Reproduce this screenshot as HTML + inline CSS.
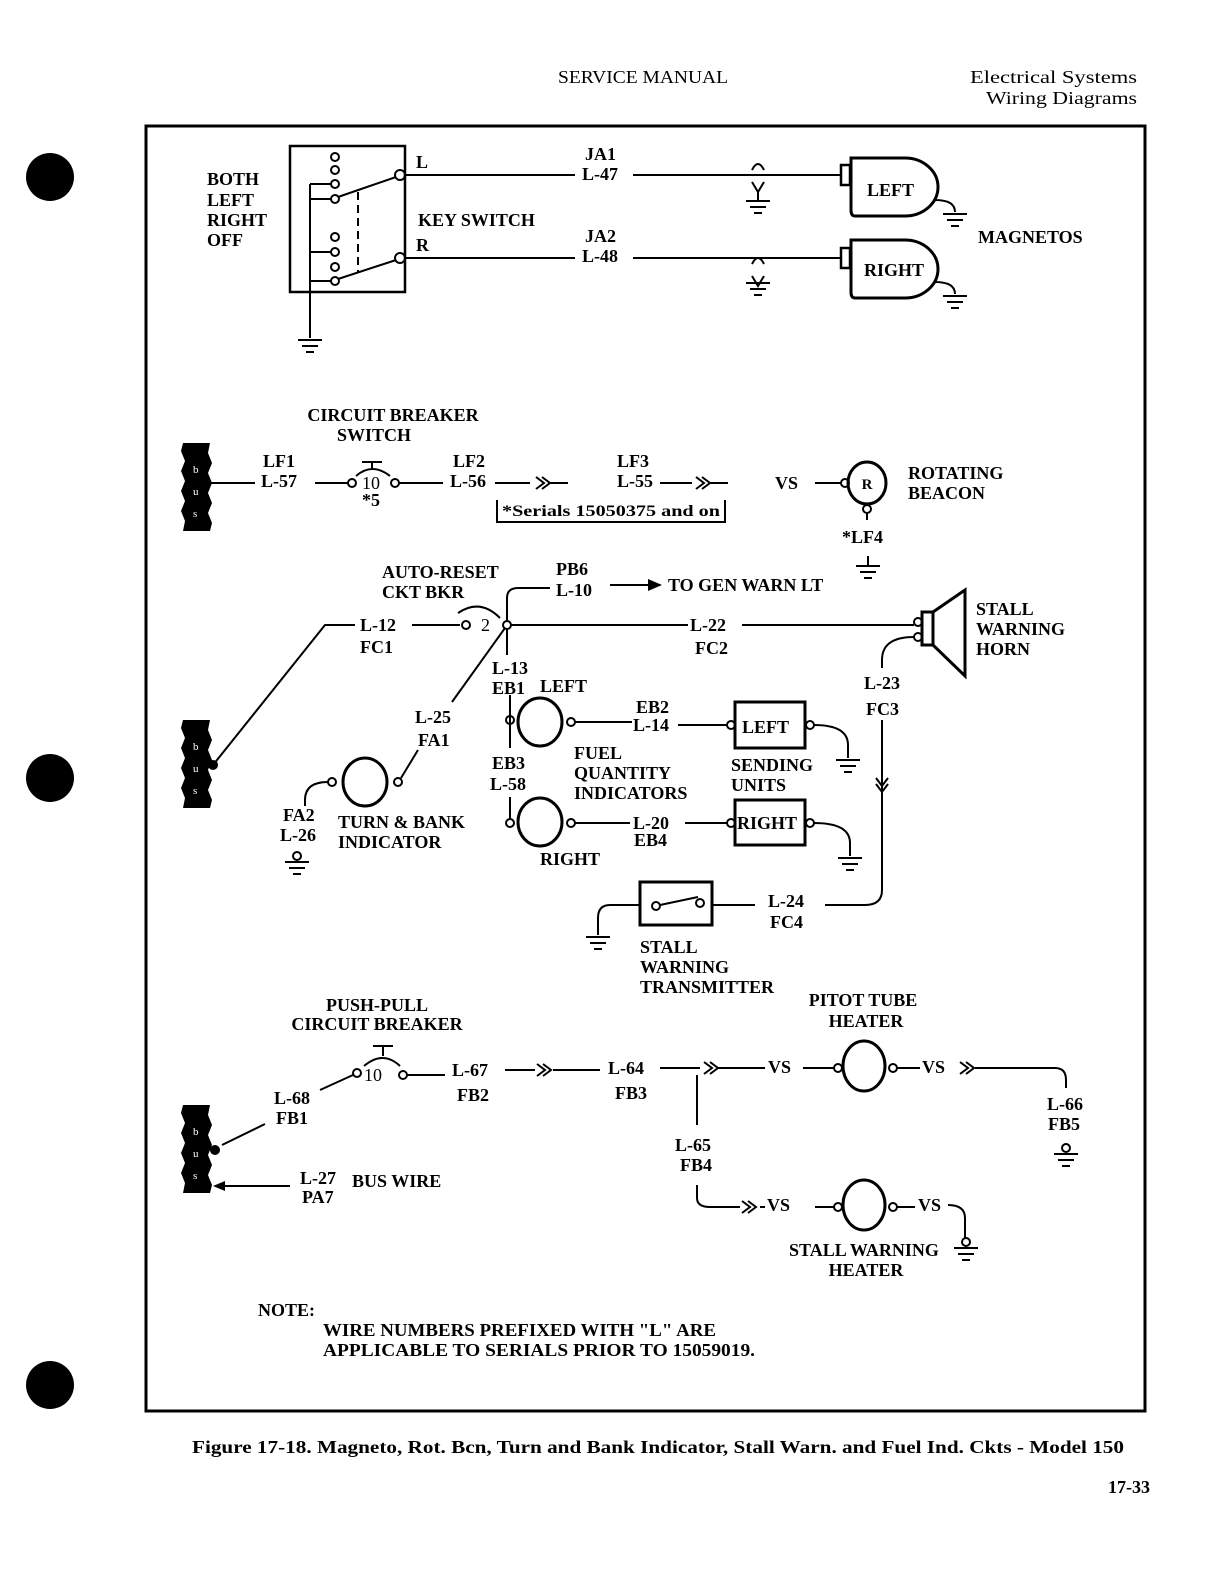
<!DOCTYPE html>
<html><head><meta charset="utf-8"><style>
html,body{margin:0;padding:0;background:#fff}
svg{display:block}
text{font-family:"Liberation Serif",serif;font-weight:bold;font-size:18px;fill:#000}
</style></head><body>
<svg width="1222" height="1580" viewBox="0 0 1222 1580" xmlns="http://www.w3.org/2000/svg">
<defs>
<g id="gnd" stroke="#000" stroke-width="2" fill="none"><line x1="-12" y1="0" x2="12" y2="0"/><line x1="-8" y1="6" x2="8" y2="6"/><line x1="-4" y1="12" x2="4" y2="12"/></g>
<g id="gndc" stroke="#000" stroke-width="2" fill="none"><circle cx="0" cy="-6" r="4"/><line x1="-12" y1="0" x2="12" y2="0"/><line x1="-8" y1="6" x2="8" y2="6"/><line x1="-4" y1="12" x2="4" y2="12"/></g>
<g id="chev" stroke="#000" stroke-width="2" fill="none"><path d="M-8,-6 L0,0 L-8,6 M-2,-6 L6,0 L-2,6"/></g>
<g id="bus"><path d="M183,0 L210,0 L208,10 L212,20 L208,30 L212,40 L208,50 L212,60 L208,70 L212,80 L210,88 L183,88 L185,78 L181,68 L185,58 L181,48 L185,38 L181,28 L185,18 L181,8 Z" fill="#000"/>
<text x="193" y="30" style="font-size:11px;font-weight:normal;fill:#fff">b</text><text x="193" y="52" style="font-size:11px;font-weight:normal;fill:#fff">u</text><text x="193" y="74" style="font-size:11px;font-weight:normal;fill:#fff">s</text></g>
</defs>

<text x="558" y="83" textLength="170" lengthAdjust="spacingAndGlyphs" style="font-weight:normal">SERVICE MANUAL</text>
<text x="970" y="83" textLength="167" lengthAdjust="spacingAndGlyphs" style="font-weight:normal">Electrical Systems</text>
<text x="986" y="104" textLength="151" lengthAdjust="spacingAndGlyphs" style="font-weight:normal">Wiring Diagrams</text>

<circle cx="50" cy="177" r="24" fill="#000"/>
<circle cx="50" cy="778" r="24" fill="#000"/>
<circle cx="50" cy="1385" r="24" fill="#000"/>

<rect x="146" y="126" width="999" height="1285" fill="none" stroke="#000" stroke-width="3"/>

<g stroke="#000" stroke-width="2" fill="none">
<rect x="290" y="146" width="115" height="146" stroke-width="2.5"/>
<circle cx="335" cy="157" r="4"/><circle cx="335" cy="170" r="4"/><circle cx="335" cy="184" r="4"/><circle cx="335" cy="199" r="4"/>
<circle cx="335" cy="237" r="4"/><circle cx="335" cy="252" r="4"/><circle cx="335" cy="267" r="4"/><circle cx="335" cy="281" r="4"/>
<path d="M310,184 H331 M310,199 H331 M310,252 H331 M310,281 H331 M310,184 V338"/>
<circle cx="400" cy="175" r="5"/><circle cx="400" cy="258" r="5"/>
<path d="M338,197 L396,177 M338,279 L396,260"/>
<path d="M358,192 V272" stroke-dasharray="8,5"/>
<path d="M405,175 H575 M633,175 H840 M405,258 H575 M633,258 H840"/>
<path d="M752,170 Q758,158 764,170 M752,182 L758,192 L764,182 M758,192 V200 M752,264 Q758,252 764,264 M752,276 L758,286 L764,276 M758,286 V282"/>
<rect x="841" y="165" width="9" height="20" stroke-width="2.5"/>
<path d="M851,158 H905 A33,29 0 0 1 905,216 H855 Q851,216 851,210 Z" stroke-width="3"/>
<path d="M935,200 Q955,200 955,212"/>
<rect x="841" y="248" width="9" height="20" stroke-width="2.5"/>
<path d="M851,240 H905 A33,29 0 0 1 905,298 H855 Q851,298 851,292 Z" stroke-width="3"/>
<path d="M935,282 Q955,282 955,294"/>

<path d="M210,483 H255 M315,483 H348 M399,483 H443 M495,483 H530 M548,483 H568 M660,483 H692 M710,483 H728 M815,483 H841"/>
<circle cx="352" cy="483" r="4"/><circle cx="395" cy="483" r="4"/>
<path d="M362,462 H382 M372,462 V470 M356,476 Q372,462 390,476"/>
<circle cx="845" cy="483" r="4"/>
<ellipse cx="867" cy="483" rx="19" ry="21" stroke-width="3"/>
<circle cx="867" cy="509" r="4"/><path d="M867,513 V520"/>
<path d="M868,556 V566"/>
<path d="M497,500 V522 H725 V500"/>

<path d="M213,765 L325,625 H355 M412,625 H460"/>
<circle cx="466" cy="625" r="4"/>
<path d="M458,613 Q480,598 500,618"/>
<circle cx="507" cy="625" r="4"/>
<path d="M511,625 H688 M742,625 H914"/>
<path d="M507,621 V598 Q507,588 518,588 H550"/>
<path d="M610,585 H648"/>
<path d="M507,629 V655 M505,628 L452,702 M418,750 L401,778"/>
<circle cx="398" cy="782" r="4"/>
<ellipse cx="365" cy="782" rx="22" ry="24" stroke-width="3"/>
<circle cx="332" cy="782" r="4"/>
<path d="M328,782 Q305,782 305,800 V806"/>
<path d="M510,695 V748 M510,797 V819"/>
<circle cx="510" cy="720" r="4"/>
<ellipse cx="540" cy="722" rx="22" ry="24" stroke-width="3"/>
<circle cx="571" cy="722" r="4"/>
<path d="M575,722 H632 M678,725 H727"/>
<circle cx="731" cy="725" r="4"/>
<rect x="735" y="702" width="70" height="46" stroke-width="3"/>
<circle cx="810" cy="725" r="4"/>
<path d="M814,725 Q848,725 848,745 V758"/>
<circle cx="510" cy="823" r="4"/>
<ellipse cx="540" cy="822" rx="22" ry="24" stroke-width="3"/>
<circle cx="571" cy="823" r="4"/>
<path d="M575,823 H630 M685,823 H727"/>
<circle cx="731" cy="823" r="4"/>
<rect x="735" y="800" width="70" height="45" stroke-width="3"/>
<circle cx="810" cy="823" r="4"/>
<path d="M814,823 Q850,823 850,843 V856"/>
<circle cx="918" cy="622" r="4"/><circle cx="918" cy="637" r="4"/>
<rect x="922" y="612" width="11" height="33" stroke-width="3"/>
<path d="M933,612 L965,590 V676 L933,645" stroke-width="3"/>
<path d="M914,637 Q882,637 882,660 V668 M882,720 V890 Q882,905 865,905 H825"/>
<path d="M712,905 H755"/>
<rect x="640" y="882" width="72" height="43" stroke-width="3"/>
<circle cx="656" cy="906" r="4"/><circle cx="700" cy="903" r="4"/>
<path d="M660,905 L698,897 M640,905 H610 Q598,905 598,918 V935"/>

<path d="M222,1145 L265,1124 M320,1090 L353,1075"/>
<circle cx="357" cy="1073" r="4"/><circle cx="403" cy="1075" r="4"/>
<path d="M373,1046 H393 M383,1046 V1056 M364,1066 Q383,1050 400,1066"/>
<path d="M407,1075 H445 M505,1070 H535 M553,1070 H600 M660,1068 H700 M718,1068 H765 M803,1068 H834 M897,1068 H920"/>
<circle cx="838" cy="1068" r="4"/>
<ellipse cx="864" cy="1066" rx="21" ry="25" stroke-width="3"/>
<circle cx="893" cy="1068" r="4"/>
<path d="M975,1068 H1055 Q1066,1068 1066,1080 V1088"/>
<path d="M697,1075 V1125 M697,1185 V1198 Q697,1207 710,1207 H740 M760,1207 H765 M815,1207 H834 M897,1207 H915 M948,1205 Q965,1205 965,1218 V1238"/>
<circle cx="838" cy="1207" r="4"/>
<ellipse cx="864" cy="1205" rx="21" ry="25" stroke-width="3"/>
<circle cx="893" cy="1207" r="4"/>
<path d="M220,1186 H290"/>
</g>
<path d="M648,579 L662,585 L648,591 Z" fill="#000"/>
<path d="M213,1186 L225,1181 L225,1191 Z" fill="#000"/>
<circle cx="213" cy="765" r="5" fill="#000"/>
<circle cx="215" cy="1150" r="5" fill="#000"/>

<use href="#chev" x="544" y="483"/><use href="#chev" x="704" y="483"/>
<use href="#chev" x="545" y="1070"/><use href="#chev" x="712" y="1068"/>
<use href="#chev" x="968" y="1068"/><use href="#chev" x="750" y="1207"/>
<g transform="translate(882,786) rotate(90)"><use href="#chev"/></g>

<use href="#gnd" x="758" y="201"/><use href="#gnd" x="758" y="283"/>
<use href="#gnd" x="955" y="214"/><use href="#gnd" x="955" y="296"/>
<use href="#gnd" x="310" y="340"/>
<use href="#gnd" x="868" y="566"/>
<use href="#gndc" x="297" y="862"/>
<use href="#gnd" x="848" y="760"/><use href="#gnd" x="850" y="858"/>
<use href="#gnd" x="598" y="937"/>
<use href="#gndc" x="1066" y="1154"/>
<use href="#gndc" x="966" y="1248"/>

<use href="#bus" x="0" y="443"/><use href="#bus" x="0" y="720"/><use href="#bus" x="0" y="1105"/>

<text x="207" y="185">BOTH</text><text x="207" y="206">LEFT</text><text x="207" y="226">RIGHT</text><text x="207" y="246">OFF</text>
<text x="416" y="168">L</text><text x="416" y="251">R</text>
<text x="418" y="226">KEY SWITCH</text>
<text x="585" y="160">JA1</text><text x="582" y="180">L-47</text>
<text x="585" y="242">JA2</text><text x="582" y="262">L-48</text>
<text x="867" y="196">LEFT</text><text x="864" y="276">RIGHT</text>
<text x="978" y="243">MAGNETOS</text>

<text x="393" y="421" text-anchor="middle">CIRCUIT BREAKER</text>
<text x="374" y="441" text-anchor="middle">SWITCH</text>
<text x="263" y="467">LF1</text><text x="261" y="487">L-57</text>
<text x="362" y="489" style="font-weight:normal">10</text><text x="362" y="506">*5</text>
<text x="453" y="467">LF2</text><text x="450" y="487">L-56</text>
<text x="617" y="467">LF3</text><text x="617" y="487">L-55</text>
<text x="775" y="489">VS</text>
<text x="867" y="489" text-anchor="middle" style="font-size:15px">R</text>
<text x="908" y="479">ROTATING</text><text x="908" y="499">BEACON</text>
<text x="842" y="543">*LF4</text>
<text x="502" y="516" textLength="218" lengthAdjust="spacingAndGlyphs" style="font-size:16px">*Serials 15050375 and on</text>

<text x="382" y="578">AUTO-RESET</text><text x="382" y="598">CKT BKR</text>
<text x="556" y="575">PB6</text><text x="556" y="596">L-10</text>
<text x="668" y="591">TO GEN WARN LT</text>
<text x="360" y="631">L-12</text><text x="360" y="653">FC1</text>
<text x="481" y="631" style="font-weight:normal">2</text>
<text x="690" y="631">L-22</text><text x="695" y="654">FC2</text>
<text x="976" y="615">STALL</text><text x="976" y="635">WARNING</text><text x="976" y="655">HORN</text>
<text x="864" y="689">L-23</text><text x="866" y="715">FC3</text>
<text x="492" y="674">L-13</text><text x="492" y="694">EB1</text><text x="540" y="692">LEFT</text>
<text x="415" y="723">L-25</text><text x="418" y="746">FA1</text>
<text x="636" y="713">EB2</text><text x="633" y="731">L-14</text>
<text x="742" y="733">LEFT</text>
<text x="574" y="759">FUEL</text><text x="574" y="779">QUANTITY</text><text x="574" y="799">INDICATORS</text>
<text x="731" y="771">SENDING</text><text x="731" y="791">UNITS</text>
<text x="492" y="769">EB3</text><text x="490" y="790">L-58</text>
<text x="633" y="829">L-20</text><text x="634" y="846">EB4</text>
<text x="737" y="829">RIGHT</text>
<text x="540" y="865">RIGHT</text>
<text x="283" y="821">FA2</text><text x="280" y="841">L-26</text>
<text x="338" y="828">TURN &amp; BANK</text><text x="338" y="848">INDICATOR</text>
<text x="768" y="907">L-24</text><text x="770" y="928">FC4</text>
<text x="640" y="953">STALL</text><text x="640" y="973">WARNING</text><text x="640" y="993">TRANSMITTER</text>

<text x="377" y="1011" text-anchor="middle">PUSH-PULL</text>
<text x="377" y="1030" text-anchor="middle">CIRCUIT BREAKER</text>
<text x="863" y="1006" text-anchor="middle">PITOT TUBE</text><text x="866" y="1027" text-anchor="middle">HEATER</text>
<text x="274" y="1104">L-68</text><text x="276" y="1124">FB1</text>
<text x="364" y="1081" style="font-weight:normal">10</text>
<text x="452" y="1076">L-67</text><text x="457" y="1101">FB2</text>
<text x="608" y="1074">L-64</text><text x="615" y="1099">FB3</text>
<text x="768" y="1073">VS</text><text x="922" y="1073">VS</text>
<text x="1047" y="1110">L-66</text><text x="1048" y="1130">FB5</text>
<text x="675" y="1151">L-65</text><text x="680" y="1171">FB4</text>
<text x="767" y="1211">VS</text><text x="918" y="1211">VS</text>
<text x="864" y="1256" text-anchor="middle">STALL WARNING</text><text x="866" y="1276" text-anchor="middle">HEATER</text>
<text x="300" y="1184">L-27</text><text x="302" y="1203">PA7</text><text x="352" y="1187">BUS WIRE</text>

<text x="258" y="1316">NOTE:</text>
<text x="323" y="1336" textLength="393" lengthAdjust="spacingAndGlyphs">WIRE NUMBERS PREFIXED WITH "L" ARE</text>
<text x="323" y="1356" textLength="432" lengthAdjust="spacingAndGlyphs">APPLICABLE TO SERIALS PRIOR TO 15059019.</text>

<text x="192" y="1453" textLength="932" lengthAdjust="spacingAndGlyphs">Figure 17-18.  Magneto, Rot. Bcn, Turn and Bank Indicator, Stall Warn. and Fuel Ind. Ckts - Model 150</text>
<text x="1150" y="1493" text-anchor="end">17-33</text>
</svg>
</body></html>
